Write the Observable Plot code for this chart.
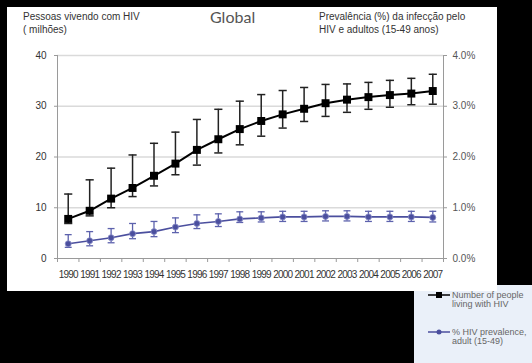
<!DOCTYPE html>
<html>
<head>
<meta charset="utf-8">
<script src="https://cdn.jsdelivr.net/npm/d3@7"></script>
<script src="https://cdn.jsdelivr.net/npm/@observablehq/plot@0.6"></script>
<style>
  html, body { margin: 0; padding: 0; background: #000; width: 532px; height: 363px; overflow: hidden; }
  #wrap { position: relative; width: 532px; height: 363px; }
  .abs { position: absolute; }
  #panel { left: 7px; top: 7px; width: 490px; height: 284px; background: #fff; }
  #legendbox { left: 414px; top: 285px; width: 118px; height: 78px; background: #eaf0f9; }
  .t { font-family: Arial, "Liberation Sans", sans-serif; font-size: 10px; color: #333; line-height: 13px; white-space: nowrap; }
  #title { left: 210px; top: 7px; font-family: Lato, "Open Sans", sans-serif; font-size: 16px; color: #555; }
  .leg { font-family: Arial, "Liberation Sans", sans-serif; font-size: 9px; color: #666; line-height: 9px; white-space: nowrap; }
  #chart { left: 0; top: 0; }
  #chart g[aria-label="x-axis tick label"] text { font-family: "Liberation Sans", Arial, sans-serif; font-size: 10px; letter-spacing: -0.8px; }
</style>
</head>
<body>
<div id="wrap">
  <div id="legendbox" class="abs"></div>
  <div id="panel" class="abs"></div>
  <div id="chart" class="abs"></div>
  <div class="abs t" style="left:23px; top:10px;">Pessoas vivendo com HIV<br>( milhões)</div>
  <div id="title" class="abs">Global</div>
  <div class="abs t" style="left:319px; top:10px;">Prevalência (%) da infecção pelo<br>HIV e adultos (15-49 anos)</div>
  <div class="abs" style="left:428px; top:289px;">
    <svg width="24" height="12" style="position:absolute; left:0; top:0;">
      <line x1="0" y1="6" x2="22" y2="6" stroke="#000" stroke-width="1.5"/>
      <rect x="8" y="3" width="6" height="6" fill="#000"/>
    </svg>
    <div class="leg" style="position:absolute; left:24px; top:2px;">Number of people<br>living with HIV</div>
  </div>
  <div class="abs" style="left:428px; top:326px;">
    <svg width="24" height="12" style="position:absolute; left:0; top:0;">
      <line x1="0" y1="6" x2="22" y2="6" stroke="#4b4f9e" stroke-width="1.5"/>
      <circle cx="11" cy="6" r="2.5" fill="#4b4f9e"/>
    </svg>
    <div class="leg" style="position:absolute; left:24px; top:2px;">% HIV prevalence,<br>adult (15-49)</div>
  </div>
</div>
<script>
// Data
const years = [1990,1991,1992,1993,1994,1995,1996,1997,1998,1999,2000,2001,2002,2003,2004,2005,2006,2007];
const people   = [7.8, 9.4, 11.8, 13.9, 16.3, 18.7, 21.4, 23.5, 25.5, 27.1, 28.4, 29.5, 30.6, 31.3, 31.8, 32.2, 32.5, 33.0];
const peopleHi = [12.7, 15.5, 17.8, 20.4, 22.7, 24.9, 27.4, 29.4, 31.0, 32.3, 33.1, 33.7, 34.3, 34.4, 34.7, 35.1, 35.5, 36.3];
const peopleLo = [6.9, 8.4, 10.0, 12.2, 14.3, 16.5, 18.4, 20.8, 22.4, 24.1, 25.7, 27.0, 28.0, 28.8, 29.4, 29.8, 30.3, 30.4];
const prev   = [0.29, 0.35, 0.41, 0.49, 0.53, 0.62, 0.69, 0.73, 0.78, 0.80, 0.82, 0.82, 0.83, 0.83, 0.82, 0.82, 0.82, 0.81];
const prevHi = [0.47, 0.53, 0.59, 0.69, 0.73, 0.80, 0.86, 0.88, 0.92, 0.92, 0.93, 0.93, 0.94, 0.94, 0.93, 0.93, 0.93, 0.93];
const prevLo = [0.22, 0.25, 0.31, 0.39, 0.43, 0.51, 0.59, 0.63, 0.71, 0.72, 0.73, 0.73, 0.74, 0.74, 0.73, 0.73, 0.73, 0.72];
const leftTicks = [0, 10, 20, 30, 40];
const rightTickLabels = ["0.0%", "1.0%", "2.0%", "3.0%", "4.0%"];

const pplData = years.map((y, i) => ({year: y, v: people[i], lo: peopleLo[i], hi: peopleHi[i]}));
// prevalence shares the y scale: 4.0% <-> 40
const prevData = years.map((y, i) => ({year: y, v: prev[i] * 10, lo: prevLo[i] * 10, hi: prevHi[i] * 10}));
const bounds = years.map(y => y - 0.5).concat([years[years.length - 1] + 0.5]);

const black = "#000";
const blue = "#4b4f9e";
const cap = 0.19;
const axisColor = "#9a9a9a";

const chart = Plot.plot({
  width: 532,
  height: 363,
  marginLeft: 57,
  marginRight: 89,
  marginTop: 55,
  marginBottom: 105,
  style: {background: "transparent", fontFamily: "Arial, 'Liberation Sans', sans-serif", fontSize: "10px", color: "#333"},
  x: {type: "linear", domain: [bounds[0], bounds[bounds.length - 1]], axis: null, label: null},
  y: {domain: [0, 40], axis: null, label: null},
  marks: [
    Plot.ruleY(leftTicks.filter(d => d > 0), {stroke: "#dadada", strokeWidth: 1.5}),
    Plot.ruleY([0], {stroke: axisColor, strokeWidth: 1}),
    Plot.ruleX([bounds[0], bounds[bounds.length - 1]], {stroke: axisColor, strokeWidth: 1}),
    Plot.axisY({anchor: "left", label: null, ticks: leftTicks, tickSize: 3, tickPadding: 8, stroke: axisColor, tickFormat: d => String(d), fill: "#333"}),
    Plot.axisY({anchor: "right", label: null, ticks: leftTicks, tickSize: 3, tickPadding: 6, stroke: axisColor, tickFormat: d => rightTickLabels[leftTicks.indexOf(d)], fill: "#555"}),
    Plot.axisX({anchor: "bottom", label: null, ticks: bounds, tickSize: 4, stroke: axisColor, tickFormat: () => ""}),
    Plot.axisX({anchor: "bottom", label: null, ticks: years, tickSize: 0, tickPadding: 12, tickFormat: d => String(d), fill: "#333"}),
    // prevalence series
    Plot.ruleX(prevData, {x: "year", y1: "lo", y2: "hi", stroke: "#5d62ad", strokeWidth: 1.3}),
    Plot.link(prevData, {x1: d => d.year - cap * 0.85, x2: d => d.year + cap * 0.85, y1: "hi", y2: "hi", stroke: "#5d62ad", strokeWidth: 1.3}),
    Plot.link(prevData, {x1: d => d.year - cap * 0.85, x2: d => d.year + cap * 0.85, y1: "lo", y2: "lo", stroke: "#5d62ad", strokeWidth: 1.3}),
    Plot.line(prevData, {x: "year", y: "v", stroke: blue, strokeWidth: 1.6}),
    Plot.dot(prevData, {x: "year", y: "v", r: 3, fill: blue, stroke: "#8a8ec8", strokeWidth: 0.8}),
    // people series
    Plot.ruleX(pplData, {x: "year", y1: "lo", y2: "hi", stroke: "#222", strokeWidth: 1.5}),
    Plot.link(pplData, {x1: d => d.year - cap, x2: d => d.year + cap, y1: "hi", y2: "hi", stroke: "#222", strokeWidth: 1.5}),
    Plot.link(pplData, {x1: d => d.year - cap, x2: d => d.year + cap, y1: "lo", y2: "lo", stroke: "#222", strokeWidth: 1.5}),
    Plot.line(pplData, {x: "year", y: "v", stroke: black, strokeWidth: 2}),
    Plot.dot(pplData, {x: "year", y: "v", symbol: "square", r: 4.5, fill: black})
  ]
});
document.getElementById("chart").appendChild(chart);
</script>
</body>
</html>
